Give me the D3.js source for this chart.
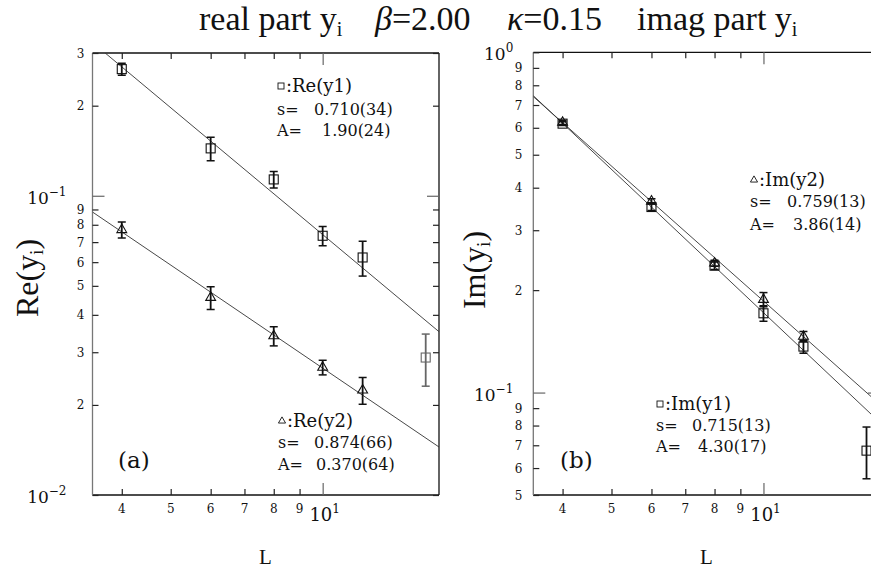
<!DOCTYPE html>
<html><head><meta charset="utf-8">
<script src="https://cdn.jsdelivr.net/npm/d3@7"></script>
<style>body{margin:0;background:#fff}</style>
</head><body><svg id="c" width="871" height="569"></svg>
<script>
// ---------------- data ----------------
const sizesL = [4, 6, 8, 10, 12, 16];
const reY1 = [0.265, 0.144, 0.1134, 0.0735, 0.0622, 0.0288];
const reY1Err = [0.012, 0.013, 0.0072, 0.0054, 0.0083, 0.0057];
const reY2 = [0.077, 0.0457, 0.034, 0.0267, 0.0224];
const reY2Err = [0.0047, 0.004, 0.0025, 0.0015, 0.0023];
const imY1 = [0.617, 0.351, 0.236, 0.171, 0.1365, 0.0675];
const imY1Err = [0.008, 0.008, 0.006, 0.009, 0.006, 0.0117];
const imY2 = [0.622, 0.365, 0.240, 0.1877, 0.1462];
const imY2Err = [0.008, 0.006, 0.005, 0.009, 0.005];

const fitNames = ["Re(y1)", "Re(y2)", "Im(y1)", "Im(y2)"];
const fitS = [0.710, 0.874, 0.715, 0.759];
const fitA = [1.90, 0.370, 4.30, 3.86];
const fitSText = ["0.710(34)", "0.874(66)", "0.715(13)", "0.759(13)"];
const fitAText = ["1.90(24)", "0.370(64)", "4.30(17)", "3.86(14)"];

const xDomain = [3.5, 17];
const xTicks = [4, 5, 6, 7, 8, 9, 10];
const xTickLabels = ["4", "5", "6", "7", "8", "9", "10^1"];
const leftYDomain = [0.01, 0.3];
const leftYTicks = [0.01, 0.02, 0.03, 0.04, 0.05, 0.06, 0.07, 0.08, 0.09, 0.1, 0.2, 0.3];
const leftYTickLabels = ["10^-2", "2", "3", "4", "5", "6", "7", "8", "9", "10^-1", "2", "3"];
const rightYDomain = [0.05, 1];
const rightYTicks = [0.05, 0.06, 0.07, 0.08, 0.09, 0.1, 0.2, 0.3, 0.4, 0.5, 0.6, 0.7, 0.8, 0.9, 1];
const rightYTickLabels = ["5", "6", "7", "8", "9", "10^-1", "2", "3", "4", "5", "6", "7", "8", "9", "10^0"];

// ---------------- drawing ----------------
const svg = d3.select("#c");
const SERIF = "'Liberation Serif', 'Times New Roman', serif";
const SERIF2 = "'DejaVu Serif', serif";
const BOTTOM = 495, PW = 346.5;

// title
const title = svg.append("g").attr("font-family", SERIF).attr("font-size", 34).attr("fill", "#111");
function tWithSub(x, main, sub) {
  const t = title.append("text").attr("x", x).attr("y", 30);
  t.append("tspan").text(main);
  t.append("tspan").attr("font-size", 20).attr("dy", 6).text(sub);
}
tWithSub(199, "real part y", "i");
{
  const t = title.append("text").attr("x", 375).attr("y", 30);
  t.append("tspan").attr("font-style", "italic").text("β");
  t.append("tspan").text("=2.00");
  const t2 = title.append("text").attr("x", 507).attr("y", 30);
  t2.append("tspan").attr("font-style", "italic").text("κ");
  t2.append("tspan").text("=0.15");
}
tWithSub(637, "imag part y", "i");

function decadeLabel(g, x, y, exp, anchor, big) {
  const t = g.append("text").attr("x", x).attr("y", y).attr("text-anchor", anchor)
    .attr("font-family", SERIF2).attr("fill", "#111");
  t.append("tspan").attr("font-size", big).text("10");
  t.append("tspan").attr("font-size", 12).attr("dy", -8).text(exp.replace("-", "−"));
}

function drawPanel(p) {
  const g = svg.append("g");
  const x = d3.scaleLog().domain(xDomain).range([p.x0, p.x0 + PW]);
  const y = d3.scaleLog().domain(p.yDom).range([BOTTOM, p.top]);
  const x1 = p.x0 + PW;

  const clipId = "clip" + p.id;
  svg.append("clipPath").attr("id", clipId).append("rect")
    .attr("x", p.x0).attr("y", p.top).attr("width", PW).attr("height", BOTTOM - p.top);

  // frame
  g.append("line").attr("x1", p.x0).attr("x2", x1).attr("y1", p.top).attr("y2", p.top).attr("stroke", "#111").attr("stroke-width", 1.3);
  g.append("line").attr("x1", p.x0).attr("x2", x1).attr("y1", BOTTOM).attr("y2", BOTTOM).attr("stroke", "#111").attr("stroke-width", 1.3);
  g.append("line").attr("x1", p.x0).attr("x2", p.x0).attr("y1", p.top).attr("y2", BOTTOM).attr("stroke", "#777").attr("stroke-width", 1.3);
  g.append("line").attr("x1", x1).attr("x2", x1).attr("y1", p.top).attr("y2", BOTTOM).attr("stroke", "#111").attr("stroke-width", 1.3);

  const styleAxis = (sel, longVal, longLen) => {
    sel.select(".domain").remove();
    sel.selectAll(".tick line").attr("stroke", "#222").attr("stroke-width", 1.2);
    sel.selectAll(".tick").filter(d => d === longVal).select("line").each(function () {
      const l = d3.select(this);
      if (l.attr("x2") !== null && +l.attr("x2") !== 0) l.attr("x2", longLen * Math.sign(+l.attr("x2")));
      if (l.attr("y2") !== null && +l.attr("y2") !== 0) l.attr("y2", longLen * Math.sign(+l.attr("y2")));
    }).attr("stroke", "#666");
    sel.selectAll(".tick text").remove();
  };
  g.append("g").attr("transform", `translate(0,${BOTTOM})`)
    .call(d3.axisBottom(x).tickValues(xTicks).tickSize(-6).tickSizeOuter(0))
    .call(s => styleAxis(s, 10, 12));
  g.append("g").attr("transform", `translate(0,${p.top})`)
    .call(d3.axisTop(x).tickValues(xTicks).tickSize(-6).tickSizeOuter(0))
    .call(s => styleAxis(s, 10, 12));
  g.append("g").attr("transform", `translate(${p.x0},0)`)
    .call(d3.axisLeft(y).tickValues(p.yTicks).tickSize(-6).tickSizeOuter(0))
    .call(s => styleAxis(s, 0.1, 12));
  g.append("g").attr("transform", `translate(${x1},0)`)
    .call(d3.axisRight(y).tickValues(p.yTicks).tickSize(-6).tickSizeOuter(0))
    .call(s => styleAxis(s, 0.1, 12));

  // x tick labels
  xTicks.forEach((v, i) => {
    const lab = xTickLabels[i];
    if (lab.startsWith("10^")) {
      decadeLabel(g, x(v) + 2, 521, lab.slice(3), "middle", 18);
    } else {
      g.append("text").attr("x", x(v)).attr("y", 513).attr("text-anchor", "middle")
        .attr("font-family", SERIF2).attr("font-size", 12).attr("fill", "#111").text(lab);
    }
  });
  // y tick labels
  p.yTicks.forEach((v, i) => {
    const lab = p.yLabels[i];
    if (lab.startsWith("10^")) {
      decadeLabel(g, p.x0 - p.decOff, y(v) + 8, lab.slice(3), "end", 17);
    } else {
      g.append("text").attr("x", p.x0 - p.digOff).attr("y", y(v) + 4.5).attr("text-anchor", "end")
        .attr("font-family", SERIF2).attr("font-size", 12).attr("fill", "#111").text(lab);
    }
  });

  // fit lines  y = A * L^(-1/s)
  const line = d3.line().x(d => x(d[0])).y(d => y(d[1]));
  p.fits.forEach(k => {
    const pts = xDomain.map(L => [L, fitA[k] * Math.pow(L, -1 / fitS[k])]);
    g.append("path").attr("d", line(pts)).attr("fill", "none").attr("stroke", "#333")
      .attr("stroke-width", 0.9).attr("clip-path", `url(#${clipId})`);
  });

  // series
  p.series.forEach(s => {
    const sg = g.append("g").attr("clip-path", `url(#${clipId})`);
    s.vals.forEach((v, i) => {
      const L = sizesL[i], e = s.errs[i];
      const col = s.grayLast && i === s.vals.length - 1 ? "#666" : "#111";
      const cx = x(L);
      const yt = y(v + e), yb = y(v - e);
      sg.append("line").attr("x1", cx).attr("x2", cx).attr("y1", yt).attr("y2", yb).attr("stroke", col).attr("stroke-width", 1.8);
      sg.append("line").attr("x1", cx - 4).attr("x2", cx + 4).attr("y1", yt).attr("y2", yt).attr("stroke", col).attr("stroke-width", 1.5);
      sg.append("line").attr("x1", cx - 4).attr("x2", cx + 4).attr("y1", yb).attr("y2", yb).attr("stroke", col).attr("stroke-width", 1.5);
      if (s.shape === "square") {
        sg.append("rect").attr("x", cx - 4.5).attr("y", y(v) - 4.5).attr("width", 9).attr("height", 9)
          .attr("fill", "none").attr("stroke", col).attr("stroke-width", 1.1);
      } else {
        sg.append("path").attr("d", d3.symbol(d3.symbolTriangle, 42)()).attr("transform", `translate(${cx},${y(v)})`)
          .attr("fill", "none").attr("stroke", col).attr("stroke-width", 1.1);
      }
    });
  });

  // legends
  p.legends.forEach(lg => {
    const k = lg.k;
    const lgG = g.append("g").attr("font-family", SERIF2).attr("fill", "#111");
    if (lg.shape === "square") {
      lgG.append("rect").attr("x", lg.x + 1).attr("y", lg.y0 - 9).attr("width", 6).attr("height", 6)
        .attr("fill", "none").attr("stroke", "#111").attr("stroke-width", 0.9);
    } else {
      lgG.append("path").attr("d", d3.symbol(d3.symbolTriangle, 22)()).attr("transform", `translate(${lg.x + 4},${lg.y0 - 6})`)
        .attr("fill", "none").attr("stroke", "#111").attr("stroke-width", 0.9);
    }
    lgG.append("text").attr("x", lg.x + 9).attr("y", lg.y0).attr("font-size", 18).text(":" + fitNames[k]);
    lgG.append("text").attr("x", lg.x).attr("y", lg.y1).attr("font-size", 16).text("s=");
    lgG.append("text").attr("x", lg.xs).attr("y", lg.y1).attr("font-size", 16).text(fitSText[k]);
    lgG.append("text").attr("x", lg.x).attr("y", lg.y2).attr("font-size", 16).text("A=");
    lgG.append("text").attr("x", lg.xa).attr("y", lg.y2).attr("font-size", 16).text(fitAText[k]);
  });

  // panel tag
  g.append("text").attr("x", p.tagX).attr("y", 468).attr("font-family", SERIF2).attr("font-size", 23)
    .attr("fill", "#111").text(p.tag);

  // axis titles
  const yt = g.append("text").attr("transform", `translate(${p.ytX},${p.ytY}) rotate(-90)`).attr("text-anchor", "middle")
    .attr("font-family", SERIF).attr("font-size", 32).attr("fill", "#111");
  yt.append("tspan").text(p.yTitle + "(y");
  yt.append("tspan").attr("font-size", 19).attr("dy", 5).text("i");
  yt.append("tspan").attr("dy", -5).text(")");
  g.append("text").attr("x", p.x0 + 173).attr("y", 564).attr("text-anchor", "middle")
    .attr("font-family", SERIF).attr("font-size", 21).attr("fill", "#111").text("L");
}

drawPanel({
  id: "a", x0: 92.5, top: 53, yDom: leftYDomain, yTicks: leftYTicks, yLabels: leftYTickLabels,
  digOff: 8, decOff: 26, fits: [0, 1], tag: "(a)", tagX: 118, ytX: 38, ytY: 278, yTitle: "Re",
  series: [
    { vals: reY1, errs: reY1Err, shape: "square", grayLast: true },
    { vals: reY2, errs: reY2Err, shape: "triangle" }
  ],
  legends: [
    { k: 0, shape: "square", x: 277, y0: 92, y1: 115, y2: 136, xs: 314, xa: 322 },
    { k: 1, shape: "triangle", x: 278, y0: 427, y1: 448, y2: 470, xs: 314, xa: 316 }
  ]
});
drawPanel({
  id: "b", x0: 533.3, top: 52.3, yDom: rightYDomain, yTicks: rightYTicks, yLabels: rightYTickLabels,
  digOff: 11, decOff: 20, fits: [2, 3], tag: "(b)", tagX: 560, ytX: 485, ytY: 270, yTitle: "Im",
  series: [
    { vals: imY1, errs: imY1Err, shape: "square" },
    { vals: imY2, errs: imY2Err, shape: "triangle" }
  ],
  legends: [
    { k: 3, shape: "triangle", x: 750, y0: 186, y1: 207, y2: 230, xs: 787, xa: 793 },
    { k: 2, shape: "square", x: 656, y0: 410, y1: 431, y2: 452, xs: 692, xa: 698 }
  ]
});
</script>
</body></html>
